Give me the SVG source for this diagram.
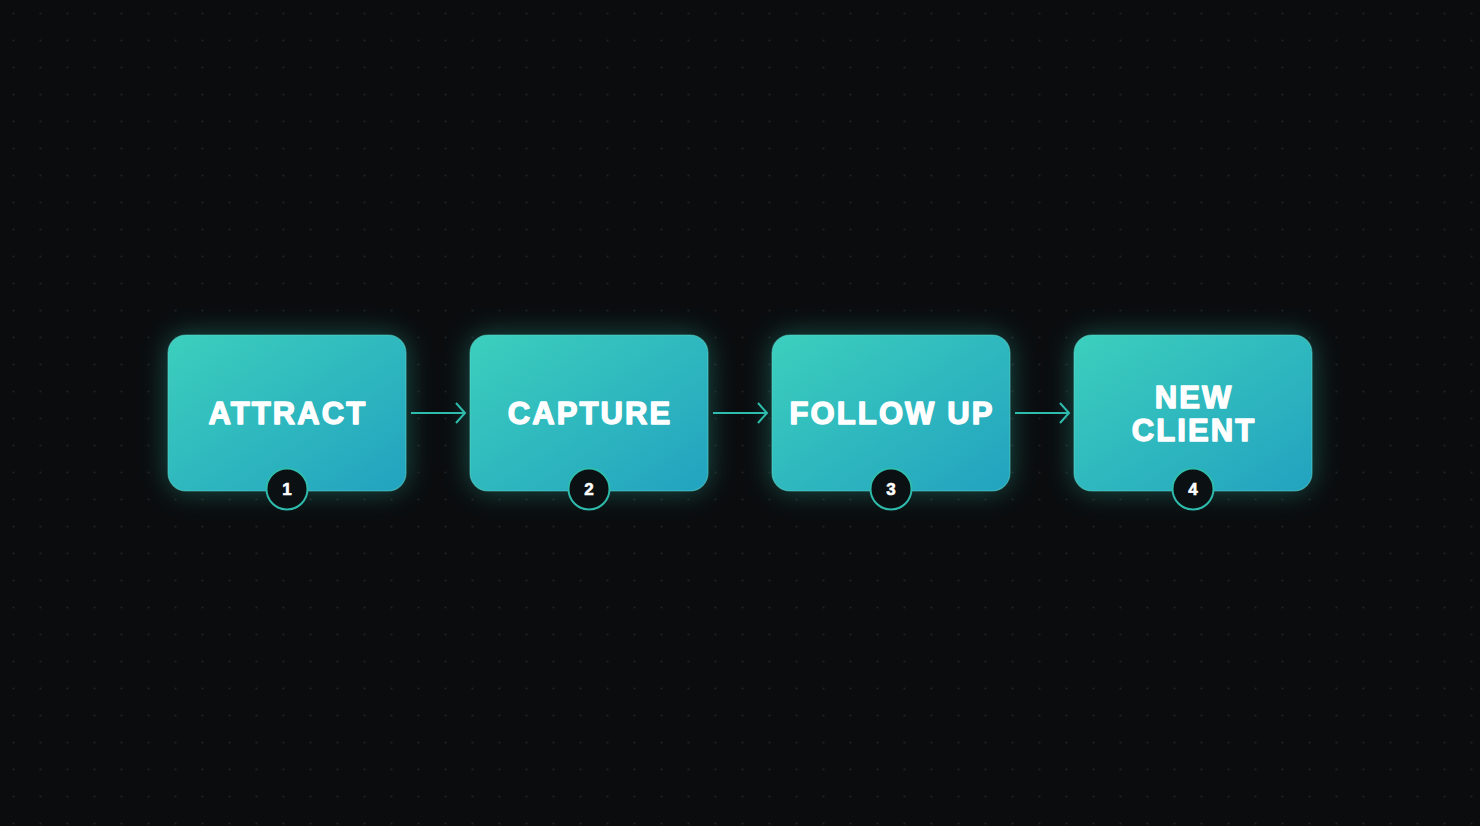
<svg xmlns="http://www.w3.org/2000/svg" width="1480" height="826" viewBox="0 0 1480 826">
<defs>
  <pattern id="dots" x="0" y="0" width="27" height="27" patternUnits="userSpaceOnUse">
    <circle cx="13.5" cy="13.5" r="1.1" fill="#1d2024"/>
  </pattern>
  <linearGradient id="boxg" x1="0" y1="0" x2="1" y2="1">
    <stop offset="0" stop-color="#3ccfbd"/>
    <stop offset="1" stop-color="#22a2c0"/>
  </linearGradient>
  <filter id="glow" x="-40%" y="-40%" width="180%" height="180%">
    <feGaussianBlur stdDeviation="14"/>
  </filter>
  <marker id="chev" viewBox="0 0 12 22" refX="10" refY="11" markerWidth="12" markerHeight="22" markerUnits="userSpaceOnUse" orient="auto">
    <path d="M1,1 L10,11 L1,21" fill="none" stroke="#2fbcad" stroke-width="2"/>
  </marker>
  <style>
    .glow { fill: #2bc4b0; opacity: 0.38; filter: url(#glow); }
    .box { fill: url(#boxg); stroke: #5fe0cf; stroke-opacity: 0.5; stroke-width: 1.2; }
    .label { font-family: "Liberation Sans", Arial, sans-serif; font-weight: 700; font-size: 31px; fill: #ffffff; stroke: #ffffff; stroke-width: 1.4; stroke-linejoin: round; text-anchor: middle; letter-spacing: 2.1px; }
    .badge { fill: #0b1013; stroke: #2fbcad; stroke-width: 2; }
    .num { font-family: "Liberation Sans", Arial, sans-serif; font-weight: 700; font-size: 17px; fill: #ffffff; stroke: #ffffff; stroke-width: 0.6; text-anchor: middle; }
    .conn { stroke: #2fbcad; stroke-width: 2; fill: none; marker-end: url(#chev); }
  </style>
</defs>
<rect width="1480" height="826" fill="#0b0c0e"/>
<rect width="1480" height="826" fill="url(#dots)"/>

<g id="connectors">
  <line class="conn" x1="411" y1="413" x2="465" y2="413"/>
  <line class="conn" x1="713" y1="413" x2="767" y2="413"/>
  <line class="conn" x1="1015" y1="413" x2="1069" y2="413"/>
</g>

<g id="node-attract">
  <rect class="glow" x="168" y="335" width="238" height="156" rx="18"/>
  <rect class="box" x="168" y="335" width="238" height="156" rx="18"/>
  <text class="label" x="288" y="424">ATTRACT</text>
  <circle class="badge" cx="287" cy="489" r="20.5"/>
  <text class="num" x="287" y="495">1</text>
</g>

<g id="node-capture">
  <rect class="glow" x="470" y="335" width="238" height="156" rx="18"/>
  <rect class="box" x="470" y="335" width="238" height="156" rx="18"/>
  <text class="label" x="590" y="424">CAPTURE</text>
  <circle class="badge" cx="589" cy="489" r="20.5"/>
  <text class="num" x="589" y="495">2</text>
</g>

<g id="node-followup">
  <rect class="glow" x="772" y="335" width="238" height="156" rx="18"/>
  <rect class="box" x="772" y="335" width="238" height="156" rx="18"/>
  <text class="label" x="892" y="424">FOLLOW UP</text>
  <circle class="badge" cx="891" cy="489" r="20.5"/>
  <text class="num" x="891" y="495">3</text>
</g>

<g id="node-newclient">
  <rect class="glow" x="1074" y="335" width="238" height="156" rx="18"/>
  <rect class="box" x="1074" y="335" width="238" height="156" rx="18"/>
  <text class="label" x="1194" y="408">NEW</text>
  <text class="label" x="1194" y="441">CLIENT</text>
  <circle class="badge" cx="1193" cy="489" r="20.5"/>
  <text class="num" x="1193" y="495">4</text>
</g>
</svg>
